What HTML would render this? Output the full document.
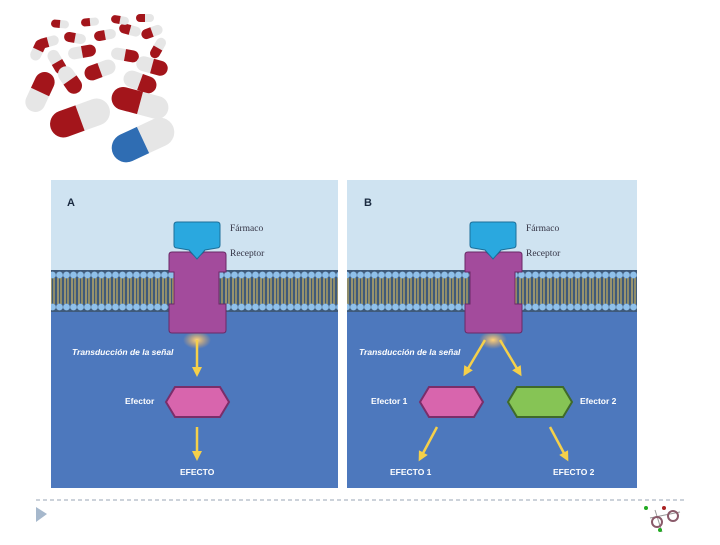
<!DOCTYPE html>
<html><head><meta charset="utf-8"><style>
body{margin:0;width:720px;height:540px;background:#fff;overflow:hidden;font-family:"Liberation Sans",sans-serif}
</style></head><body>
<svg id="s" width="720" height="540" viewBox="0 0 720 540" xmlns="http://www.w3.org/2000/svg">
<defs>
<pattern id="mem" x="0" y="270" width="7" height="42" patternUnits="userSpaceOnUse">
<rect width="7" height="42" fill="#3f5a7a"/>
<line x1="2" y1="8" x2="2" y2="34" stroke="#c9b36a" stroke-width="1.3"/>
<line x1="5" y1="8" x2="5" y2="34" stroke="#b9a860" stroke-width="1.3"/>
<circle cx="3.5" cy="5" r="3.4" fill="#8fc0ea"/>
<circle cx="3.5" cy="37" r="3.4" fill="#8fc0ea"/>
</pattern>
<radialGradient id="glow"><stop offset="0" stop-color="#ffd27a" stop-opacity="1"/><stop offset="1" stop-color="#ffb050" stop-opacity="0"/></radialGradient>
<marker id="ah" markerWidth="4" markerHeight="4" refX="2" refY="2" orient="auto"><path d="M0,0 L4,2 L0,4 Z" fill="#f5d04a"/></marker>
</defs>

<g id="pills"></g>

<!-- Panel A -->
<rect x="51" y="180" width="287" height="308" fill="#4d78bd"/>
<rect x="51" y="180" width="287" height="92" fill="#cfe3f1"/>
<rect x="51" y="270" width="287" height="42" fill="url(#mem)"/>
<!-- Panel B -->
<rect x="347" y="180" width="290" height="308" fill="#4d78bd"/>
<rect x="347" y="180" width="290" height="92" fill="#cfe3f1"/>
<rect x="347" y="270" width="290" height="42" fill="url(#mem)"/>

<g font-family="Liberation Sans, sans-serif">
<text x="67" y="206" font-size="11" font-weight="bold" fill="#1a2a40">A</text>
<text x="364" y="206" font-size="11" font-weight="bold" fill="#1a2a40">B</text>
</g>

<g id="recA">
<ellipse cx="197" cy="340" rx="14" ry="9" fill="url(#glow)"/>
<path d="M172,252 h18 l7,6 l7,-6 h19 q3,0 3,3 v17 h-7 v32 h7 v26 q0,3 -3,3 h-51 q-3,0 -3,-3 v-26 h5 v-32 h-5 v-17 q0,-3 3,-3z" fill="#a34b9c" stroke="#6a2a66" stroke-width="1"/>
<path d="M177,222 h40 q3,0 3,3 v20 q0,3 -3,3 l-12,2 l-8,9 l-8,-9 l-12,-2 q-3,0 -3,-3 v-20 q0,-3 3,-3z" fill="#2aa8df" stroke="#1c6f9a" stroke-width="1"/>
</g>
<g transform="translate(296,0)">
<ellipse cx="197" cy="340" rx="14" ry="9" fill="url(#glow)"/>
<path d="M172,252 h18 l7,6 l7,-6 h19 q3,0 3,3 v17 h-7 v32 h7 v26 q0,3 -3,3 h-51 q-3,0 -3,-3 v-26 h5 v-32 h-5 v-17 q0,-3 3,-3z" fill="#a34b9c" stroke="#6a2a66" stroke-width="1"/>
<path d="M177,222 h40 q3,0 3,3 v20 q0,3 -3,3 l-12,2 l-8,9 l-8,-9 l-12,-2 q-3,0 -3,-3 v-20 q0,-3 3,-3z" fill="#2aa8df" stroke="#1c6f9a" stroke-width="1"/>
</g>

<g font-family="Liberation Serif, serif" font-size="9.5" fill="#334">
<text x="230" y="231">Fármaco</text><text x="230" y="256">Receptor</text>
<text x="526" y="231">Fármaco</text><text x="526" y="256">Receptor</text>
</g>

<g font-family="Liberation Sans, sans-serif" fill="#fff" font-size="8.5">
<text x="72" y="355" font-style="italic" font-weight="bold">Transducción de la señal</text>
<text x="359" y="355" font-style="italic" font-weight="bold">Transducción de la señal</text>
<text x="125" y="404" font-weight="bold">Efector</text>
<text x="371" y="404" font-weight="bold">Efector 1</text>
<text x="580" y="404" font-weight="bold">Efector 2</text>
<text x="180" y="475" font-weight="bold">EFECTO</text>
<text x="390" y="475" font-weight="bold">EFECTO 1</text>
<text x="553" y="475" font-weight="bold">EFECTO 2</text>
</g>

<polygon points="166,402 175,387 220,387 229,402 220,417 175,417" fill="#d865ad" stroke="#7a2e6a" stroke-width="2"/>
<polygon points="420,402 429,387 474,387 483,402 474,417 429,417" fill="#d865ad" stroke="#7a2e6a" stroke-width="2"/>
<polygon points="508,402 517,387 563,387 572,402 563,417 517,417" fill="#86c455" stroke="#3f6a2a" stroke-width="2"/>

<g stroke="#f5d04a" stroke-width="2.5" fill="none" marker-end="url(#ah)">
<line x1="197" y1="340" x2="197" y2="372"/>
<line x1="197" y1="427" x2="197" y2="456"/>
<line x1="485" y1="340" x2="466" y2="372"/>
<line x1="500" y1="340" x2="519" y2="372"/>
<line x1="437" y1="427" x2="421" y2="457"/>
<line x1="550" y1="427" x2="566" y2="457"/>
</g>

<line x1="36" y1="500" x2="685" y2="500" stroke="#9aa6b4" stroke-width="1" stroke-dasharray="4,3"/>
<polygon points="36,507 47,514 36,522" fill="#a6b8cc"/>
<g stroke="#999" stroke-width="1">
<line x1="650" y1="518" x2="680" y2="512"/>
<line x1="655" y1="510" x2="662" y2="532"/>
<circle cx="657" cy="522" r="5" fill="none" stroke="#8a5a6a" stroke-width="2"/>
<circle cx="673" cy="516" r="5" fill="none" stroke="#8a5a6a" stroke-width="2"/>
</g>
<circle cx="646" cy="508" r="2" fill="#2a2"/><circle cx="660" cy="530" r="2" fill="#2a2"/><circle cx="664" cy="508" r="2" fill="#a22"/>
</svg>
<script>
var P=[
[48,42,22,10,-15,'#a3151b'],[75,38,22,10,10,'#a3151b'],[105,35,22,10,-10,'#a3151b'],[130,30,22,10,15,'#a3151b'],[152,32,22,10,-20,'#a3151b'],
[60,24,18,8,5,'#a3151b'],[90,22,18,8,-5,'#a3151b'],[120,20,18,8,10,'#a3151b'],[145,18,18,8,0,'#a3151b'],
[38,50,22,11,115,'#a3151b'],[82,52,28,12,170,'#a3151b'],[125,55,28,12,190,'#a3151b'],[158,48,22,10,-60,'#a3151b'],
[57,62,26,12,240,'#a3151b'],[100,70,32,15,-20,'#a3151b'],[152,66,32,15,195,'#a3151b'],[70,80,30,16,235,'#a3151b'],
[140,82,34,17,200,'#a3151b'],[40,92,42,20,115,'#a3151b'],[140,103,58,23,15,'#a3151b'],[80,118,62,27,-20,'#a3151b'],[143,140,66,29,-25,'#2f6db3']];
var g=document.getElementById('pills'),h='';
P.forEach(function(p){var L=p[2]/2,r=p[3]/2;
h+='<g transform="translate('+p[0]+','+p[1]+') rotate('+p[4]+')">'+
'<path d="M0,'+(-r)+' H'+(L-r)+' A'+r+' '+r+' 0 0 1 '+(L-r)+','+r+' H0 Z" fill="#e6e6e6"/>'+
'<path d="M0,'+(-r)+' H'+(-L+r)+' A'+r+' '+r+' 0 0 0 '+(-L+r)+','+r+' H0 Z" fill="'+p[5]+'"/></g>';});
g.innerHTML=h;
</script>
</body></html>
